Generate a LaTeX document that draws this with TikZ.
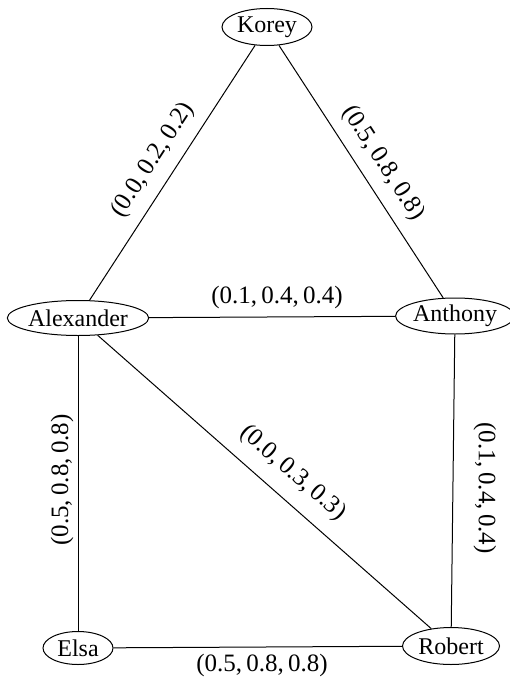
\documentclass[tikz,border=0pt]{standalone}
\usepackage{fontspec}
\setmainfont{Liberation Serif}
\usetikzlibrary{shapes.geometric}
\begin{document}
\begin{tikzpicture}[x=1pt,y=-1pt,
  vert/.style={draw,ellipse,inner sep=0pt,line width=1pt,font=\fontsize{24}{27}\selectfont},
  edge/.style={line width=1pt},
  lbl/.style={font=\fontsize{25}{28}\selectfont,inner sep=0pt}]
\useasboundingbox (0,0) rectangle (510,682);
\node[vert,minimum width=90pt,minimum height=37pt] (korey) at (267,27) {Korey};
\node[vert,minimum width=137pt,minimum height=35pt] (alex) at (78,318) {Alexander};
\node[vert,minimum width=105pt,minimum height=36pt] (anth) at (455,316) {Anthony};
\node[vert,minimum width=70pt,minimum height=33pt] (elsa) at (78,648) {Elsa};
\node[vert,minimum width=97pt,minimum height=37pt] (rob) at (451,646) {Robert};
\draw[edge] (alex) -- (korey);
\draw[edge] (korey) -- (anth);
\draw[edge] (alex) -- (anth);
\draw[edge] (alex) -- (rob);
\draw[edge] (alex) -- (elsa);
\draw[edge] (anth) -- (rob);
\draw[edge] (elsa) -- (rob);
\node[lbl,rotate=57] (l1) at (153,160) {(0.0,\,0.2,\,0.2)};
\node[lbl,rotate=-57] (l2) at (383,163) {(0.5,\,0.8,\,0.8)};
\node[lbl] (l3) at (277,297) {(0.1,\,0.4,\,0.4)};
\node[lbl,rotate=-41] (l4) at (293,473) {(0.0,\,0.3,\,0.3)};
\node[lbl,rotate=90] (l5) at (62,480) {(0.5,\,0.8,\,0.8)};
\node[lbl,rotate=-90] (l6) at (485,488) {(0.1,\,0.4,\,0.4)};
\node[lbl] (l7) at (262,665) {(0.5,\,0.8,\,0.8)};
\end{tikzpicture}
\end{document}
